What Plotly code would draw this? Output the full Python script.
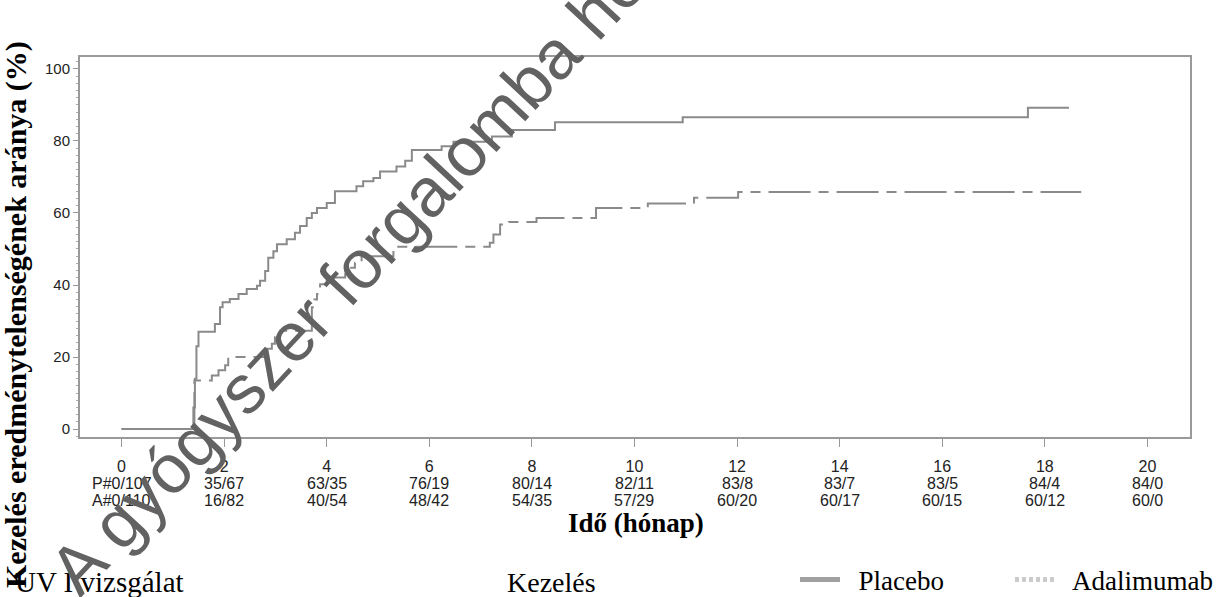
import plotly.graph_objects as go

# ---- data ----
placebo_t = [0, 1.40, 1.43, 1.46, 1.50, 1.82, 1.92, 1.97, 2.11, 2.28, 2.44, 2.64, 2.70, 2.80, 2.86,
             2.96, 3.03, 3.22, 3.38, 3.48, 3.61, 3.71, 3.81, 4.00, 4.16, 4.58, 4.71, 4.91, 5.04,
             5.36, 5.53, 5.66, 6.24, 6.47, 7.22, 7.61, 8.45, 10.94, 17.67, 18.47]
placebo_y = [0, 6, 14, 23, 27, 29.2, 33.8, 35.2, 36.1, 37.5, 38.9, 39.8, 41.2, 43.9, 47.6,
             49.4, 51.3, 52.7, 54.5, 56.4, 58.6, 60.0, 61.4, 62.8, 66.0, 67.4, 68.8, 69.7, 71.5,
             72.9, 74.5, 77.5, 78.5, 79.8, 81.2, 83.0, 85.2, 86.6, 89.2, 89.2]

ada_t = [0, 1.42, 1.76, 1.89, 2.02, 2.08, 2.80, 2.93, 2.99, 3.09, 3.71, 3.76, 3.81, 3.87, 4.00,
         4.13, 4.36, 4.45, 4.55, 4.68, 5.30, 7.18, 7.25, 7.38, 7.55, 8.09, 9.25, 10.26, 11.16,
         12.02, 18.71]
ada_y = [0, 13.5, 14.9, 16.3, 17.7, 20.0, 22.3, 23.7, 25.5, 27.3, 33.8, 36.0, 37.5, 40.2, 41.6,
         42.1, 43.0, 44.8, 46.2, 48.0, 50.6, 51.7, 54.0, 56.8, 57.5, 58.6, 61.4, 62.6, 64.2,
         65.8, 65.8]

x_ticks = [0, 2, 4, 6, 8, 10, 12, 14, 16, 18, 20]
y_ticks = [0, 20, 40, 60, 80, 100]
placebo_risk = ["P#0/107", "35/67", "63/35", "76/19", "80/14", "82/11", "83/8", "83/7", "83/5", "84/4", "84/0"]
ada_risk = ["A#0/110", "16/82", "40/54", "48/42", "54/35", "57/29", "60/20", "60/17", "60/15", "60/12", "60/0"]

# ---- layout geometry ----
W, H = 1221, 597
ML, MR, MT, MB = 80, 31, 57, 160


def px(x):
    return (x - ML) / (W - ML - MR)


def py(y):
    return (H - MB - y) / (H - MT - MB)


LINE = "#8a8a8a"
TXT = "#222"
SANS = "Liberation Sans, Arial, sans-serif"
SERIF = "Liberation Serif, Times New Roman, serif"

fig = go.Figure()
fig.add_trace(go.Scatter(x=placebo_t, y=placebo_y, mode="lines", line=dict(shape="hv", color=LINE, width=2),
                         showlegend=False, hoverinfo="skip"))
fig.add_trace(go.Scatter(x=ada_t, y=ada_y, mode="lines",
                         line=dict(shape="hv", color=LINE, width=2, dash="42px,8px,10px,8px"),
                         showlegend=False, hoverinfo="skip"))
# legend keys
fig.add_trace(go.Scatter(x=[None], y=[None], mode="lines", name="  Placebo",
                         line=dict(color="#a0a0a0", width=5)))
fig.add_trace(go.Scatter(x=[None], y=[None], mode="lines", name="  Adalimumab",
                         line=dict(color="#cbcbcb", width=5, dash="4px,3px")))

annotations = []
for t, p, a in zip(x_ticks, placebo_risk, ada_risk):
    annotations.append(dict(x=t, xref="x", y=0, yref="paper", yshift=-46, text=p, showarrow=False,
                            yanchor="middle", font=dict(family=SANS, size=16, color=TXT)))
    annotations.append(dict(x=t, xref="x", y=0, yref="paper", yshift=-63, text=a, showarrow=False,
                            yanchor="middle", font=dict(family=SANS, size=16, color=TXT)))

annotations += [
    dict(x=px(636), y=py(523), xref="paper", yref="paper", text="<b>Idő (hónap)</b>", showarrow=False,
         xanchor="center", yanchor="middle", font=dict(family=SERIF, size=27, color="#000")),
    dict(x=px(16), y=py(315), xref="paper", yref="paper", text="<b>Kezelés eredménytelenségének aránya (%)</b>",
         showarrow=False, textangle=-90, xanchor="center", yanchor="middle",
         font=dict(family=SERIF, size=30, color="#000")),
    dict(x=px(13), y=py(582), xref="paper", yref="paper", text="UV I vizsgálat", showarrow=False,
         xanchor="left", yanchor="middle", font=dict(family=SERIF, size=29, color="#000")),
    dict(x=px(505), y=py(582), xref="paper", yref="paper", text="Kezelés", showarrow=False,
         xanchor="left", yanchor="middle", font=dict(family=SERIF, size=28, color="#000")),
    # watermark
    dict(x=px(402), y=py(218), xref="paper", yref="paper", text="A gyógyszer forgalomba hozatali",
         showarrow=False, textangle=-47, xanchor="center", yanchor="middle",
         font=dict(family=SANS, size=69, color="#626262")),
]

fig.update_layout(
    width=W, height=H,
    margin=dict(l=ML, r=MR, t=MT, b=MB, autoexpand=False),
    paper_bgcolor="white", plot_bgcolor="white",
    showlegend=True,
    legend=dict(orientation="h", x=px(795), y=py(580), xanchor="left", yanchor="middle",
                font=dict(family=SERIF, size=27, color="#000"), itemwidth=40, entrywidth=160,
                bgcolor="rgba(0,0,0,0)"),
    annotations=annotations,
    xaxis=dict(range=[-0.81, 20.83], tickvals=x_ticks, ticks="outside", ticklen=8, tickcolor="#999",
               showline=True, mirror=True, linecolor="#9a9a9a", linewidth=2, showgrid=False, zeroline=False,
               tickfont=dict(family=SANS, size=16, color=TXT), ticklabelstandoff=6),
    yaxis=dict(range=[-2.2, 103.3], tickvals=y_ticks, ticks="outside", ticklen=5, tickcolor="#999",
               showline=True, mirror=True, linecolor="#9a9a9a", linewidth=2, showgrid=False, zeroline=False,
               tickfont=dict(family=SANS, size=15, color=TXT),
               minor=dict(dtick=2, ticks="outside", ticklen=2, tickcolor="#aaa", showgrid=False)),
)

fig.write_html("out.html")
